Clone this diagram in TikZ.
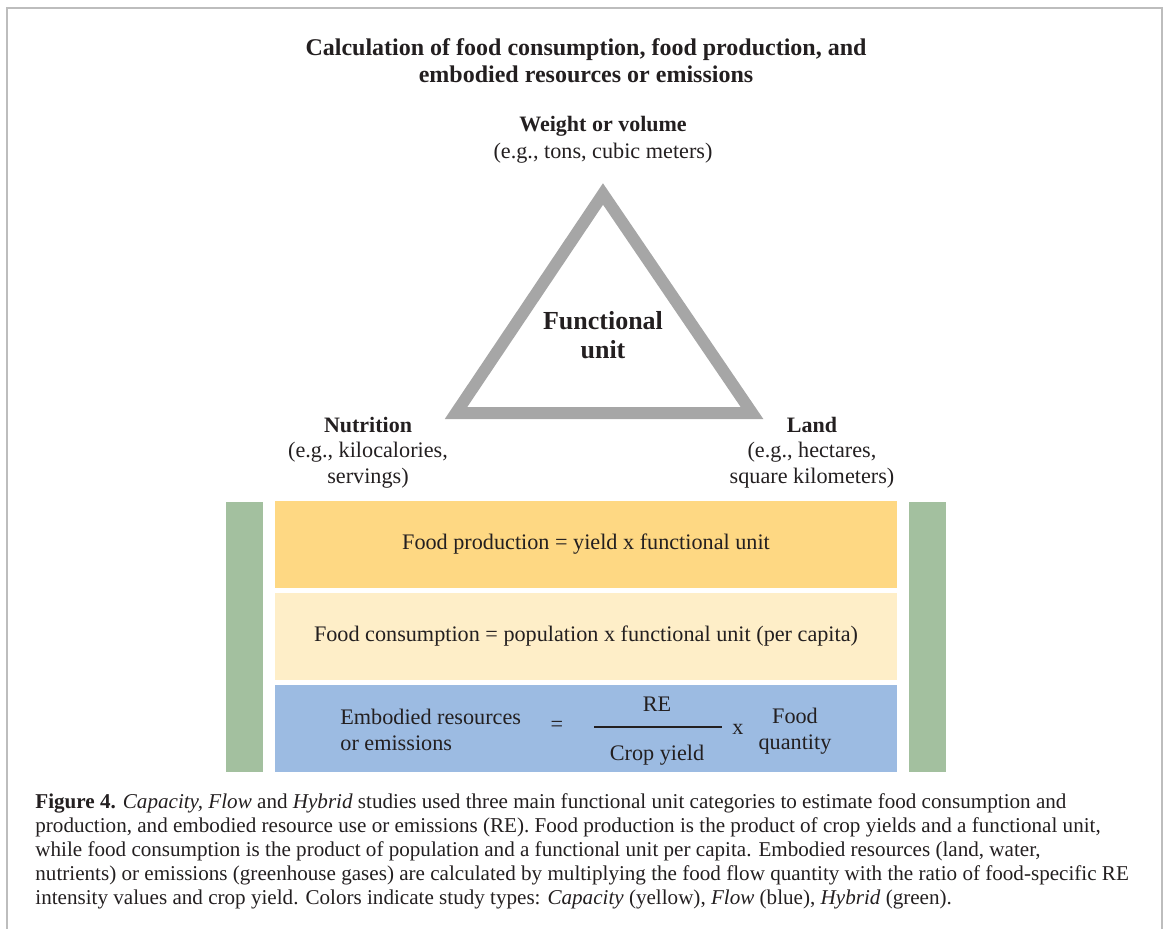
\documentclass[tikz,border=0pt]{standalone}
\usepackage{fontspec}
\setmainfont{Liberation Serif}
\usetikzlibrary{positioning}

\definecolor{trigray}{HTML}{A6A6A6}
\definecolor{hybridgreen}{HTML}{A3C09F}
\definecolor{capyellow}{HTML}{FED883}
\definecolor{capyellowlight}{HTML}{FEEEC8}
\definecolor{flowblue}{HTML}{9CBBE2}
\definecolor{framegray}{HTML}{BDBDBD}
\definecolor{ink}{HTML}{231F20}

\begin{document}
\begin{tikzpicture}[x=0.5pt,y=-0.5pt]
	\tikzstyle{every node} = [inner sep=0pt, text=ink]
	\tikzstyle{head} = [font=\fontsize{11}{13.5}\selectfont\bfseries, align=center]
	\tikzstyle{sub} = [font=\fontsize{11.1}{13}\selectfont, align=center]
	\tikzstyle{band} = [minimum width=311pt, minimum height=43.5pt, font=\fontsize{11.1}{13}\selectfont]
	\tikzstyle{hybar} = [fill=hybridgreen, minimum width=18.5pt, minimum height=135pt]
	\useasboundingbox (0,0) rectangle (1167,928);
	\draw[framegray, line width=1pt] (7,940) -- (7,8) -- (1162,8) -- (1162,940);
	
	\node[head, font=\fontsize{12}{13.5}\selectfont\bfseries] (title) at (586,61) {Calculation of food consumption, food production, and\\embodied resources or emissions};
	
	\coordinate (ttop) at (603,194); \coordinate (tleft) at (456,413); \coordinate (tright) at (752,413);
	\draw[trigray, line width=6pt, miter limit=10] (ttop) -- (tleft) -- (tright) -- cycle;
	\node[font=\fontsize{13}{14.5}\selectfont\bfseries, align=center] (fu) at (603,335) {Functional\\unit};
	
	\node[head] (wv) at (603,126) {Weight or volume}; \node[sub] (wvex) at (603,153) {(e.g., tons, cubic meters)};
	\node[head] (nut) at (368,425) {Nutrition}; \node[sub] (nutex) at (368,465) {(e.g., kilocalories,\\servings)};
	\node[head] (land) at (812,425) {Land}; \node[sub] (landex) at (812,465) {(e.g., hectares,\\square kilometers)};
	
	\node[hybar] (greenl) at (244.5,637) {}; \node[hybar] (greenr) at (927.5,637) {};
	\node[band, fill=capyellow] (prod) at (586,544) {Food production = yield x functional unit};
	\node[band, fill=capyellowlight] (cons) at (586,636.5) {Food consumption = population x functional unit (per capita)};
	\node[band, fill=flowblue] (emb) at (586,728.5) {};
	
	\node[sub, align=left, anchor=west] (embtxt) at (340,730) {Embodied resources\\or emissions};
	\node[sub] (eq) at (557,726) {=}; \node[sub] (re) at (657,704) {RE}; \node[sub] (cy) at (657,755) {Crop yield};
	\coordinate (barl) at (594,727); \coordinate (barr) at (722,727);
	\draw[ink, line width=1.1pt] (barl) -- (barr);
	\node[sub] (times) at (738,729) {x}; \node[sub] (fq) at (795,731) {Food\\quantity};
	
	\node[anchor=north west, align=left, font=\fontsize{10.55}{12}\selectfont] (cap) at (35,793) {\textbf{Figure 4.} \textit{Capacity, Flow} and \textit{Hybrid} studies used three main functional unit categories to estimate food consumption and\\production, and embodied resource use or emissions (RE). Food production is the product of crop yields and a functional unit,\\while food consumption is the product of population and a functional unit per capita. Embodied resources (land, water,\\nutrients) or emissions (greenhouse gases) are calculated by multiplying the food flow quantity with the ratio of food-specific RE\\intensity values and crop yield. Colors indicate study types: \textit{Capacity} (yellow), \textit{Flow} (blue), \textit{Hybrid} (green).};
\end{tikzpicture}
\end{document}
